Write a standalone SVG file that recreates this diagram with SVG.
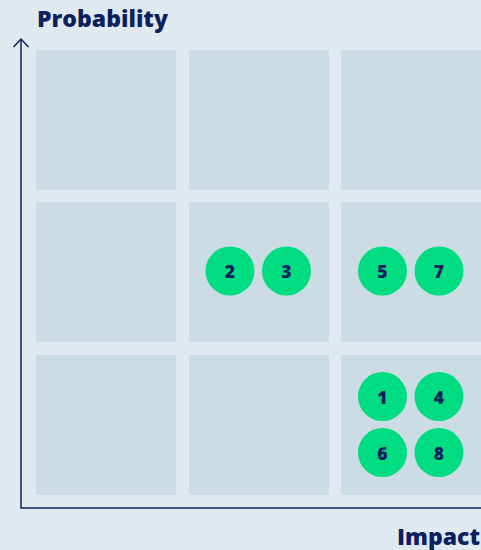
<svg xmlns="http://www.w3.org/2000/svg" width="481" height="550" viewBox="0 0 481 550">
<style>
.cell{fill:#ccdce5}
.dot circle{fill:#00dc82}
.dot text{fill:#0c1f5e;font-family:"Open Sans","Liberation Sans",sans-serif;font-weight:800;font-size:17.5px;text-anchor:middle;dominant-baseline:central}
.lbl{fill:#0c1f5e;font-family:"Open Sans","Liberation Sans",sans-serif;font-weight:800;font-size:22px}
.axis{fill:none;stroke:#0c1f5e;stroke-width:1.5}
</style>
<rect width="481" height="550" fill="#dfe9ef"/>
<g id="grid">
<rect class="cell" x="36" y="50" width="140" height="140"/>
<rect class="cell" x="189" y="50" width="140" height="140"/>
<rect class="cell" x="341" y="50" width="140" height="140"/>
<rect class="cell" x="36" y="202" width="140" height="140"/>
<rect class="cell" x="189" y="202" width="140" height="140"/>
<rect class="cell" x="341" y="202" width="140" height="140"/>
<rect class="cell" x="36" y="355" width="140" height="140"/>
<rect class="cell" x="189" y="355" width="140" height="140"/>
<rect class="cell" x="341" y="355" width="140" height="140"/>
</g>
<g id="connectors">
<path class="axis" d="M21,39 V508 H481"/>
<path class="axis" d="M13.5,47 L21,39 L28.5,47"/>
</g>
<text class="lbl" x="37" y="27" textLength="131" lengthAdjust="spacingAndGlyphs">Probability</text>
<text class="lbl" x="397" y="545" textLength="83" lengthAdjust="spacingAndGlyphs">Impact</text>
<g id="n2" class="dot"><circle cx="230" cy="271" r="24.5"/><text x="230" y="271">2</text></g>
<g id="n3" class="dot"><circle cx="286.5" cy="271" r="24.5"/><text x="286.5" y="271">3</text></g>
<g id="n5" class="dot"><circle cx="382.5" cy="271" r="24.5"/><text x="382.5" y="271">5</text></g>
<g id="n7" class="dot"><circle cx="439" cy="271" r="24.5"/><text x="439" y="271">7</text></g>
<g id="n1" class="dot"><circle cx="382.5" cy="396.5" r="24.5"/><text x="382.5" y="396.5">1</text></g>
<g id="n4" class="dot"><circle cx="439" cy="396.5" r="24.5"/><text x="439" y="396.5">4</text></g>
<g id="n6" class="dot"><circle cx="382.5" cy="452.5" r="24.5"/><text x="382.5" y="452.5">6</text></g>
<g id="n8" class="dot"><circle cx="439" cy="452.5" r="24.5"/><text x="439" y="452.5">8</text></g>
</svg>
